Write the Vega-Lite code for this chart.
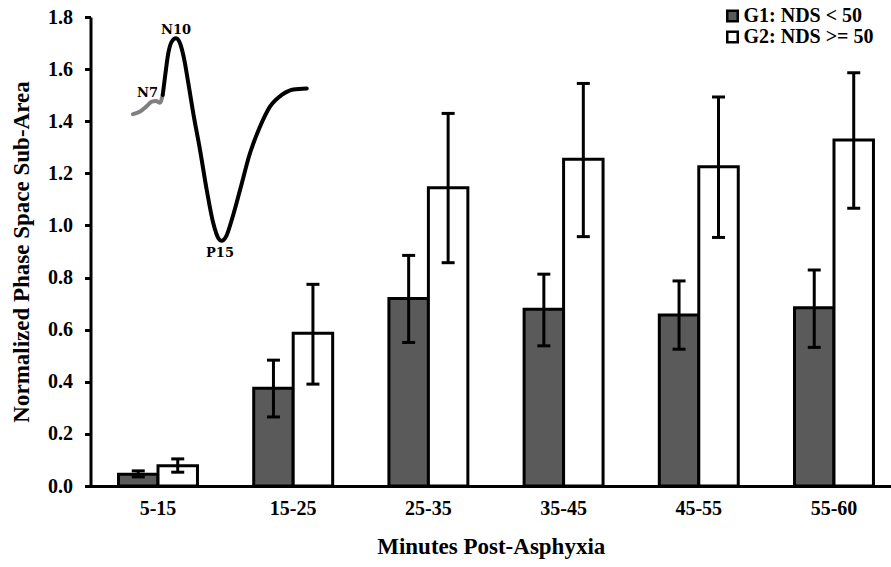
{
  "$schema": "https://vega.github.io/schema/vega-lite/v6.json",
  "autosize": {"type": "none"},
  "width": 800.5,
  "height": 469,
  "padding": {"left": 90.5, "top": 17, "right": 0, "bottom": 81},
  "background": "white",
  "config": {
    "view": {"stroke": null},
    "font": "Liberation Serif",
    "axis": {
      "labelFont": "Liberation Serif",
      "labelFontWeight": "bold",
      "labelColor": "black",
      "titleFont": "Liberation Serif",
      "titleFontWeight": "bold",
      "titleColor": "black",
      "domainColor": "black",
      "domainWidth": 3,
      "tickColor": "black",
      "tickWidth": 3,
      "grid": false
    }
  },
  "layer": [
    {
      "data": {
        "values": [
          {"interval": "5-15", "group": "G1: NDS < 50", "mean": 0.045, "lo": 0.035, "hi": 0.058},
          {"interval": "5-15", "group": "G2: NDS >= 50", "mean": 0.078, "lo": 0.053, "hi": 0.104},
          {"interval": "15-25", "group": "G1: NDS < 50", "mean": 0.375, "lo": 0.265, "hi": 0.483},
          {"interval": "15-25", "group": "G2: NDS >= 50", "mean": 0.586, "lo": 0.391, "hi": 0.774},
          {"interval": "25-35", "group": "G1: NDS < 50", "mean": 0.72, "lo": 0.551, "hi": 0.885},
          {"interval": "25-35", "group": "G2: NDS >= 50", "mean": 1.145, "lo": 0.857, "hi": 1.43},
          {"interval": "35-45", "group": "G1: NDS < 50", "mean": 0.678, "lo": 0.538, "hi": 0.813},
          {"interval": "35-45", "group": "G2: NDS >= 50", "mean": 1.254, "lo": 0.957, "hi": 1.545},
          {"interval": "45-55", "group": "G1: NDS < 50", "mean": 0.656, "lo": 0.525, "hi": 0.787},
          {"interval": "45-55", "group": "G2: NDS >= 50", "mean": 1.225, "lo": 0.954, "hi": 1.493},
          {"interval": "55-60", "group": "G1: NDS < 50", "mean": 0.684, "lo": 0.532, "hi": 0.829},
          {"interval": "55-60", "group": "G2: NDS >= 50", "mean": 1.328, "lo": 1.066, "hi": 1.586}
        ]
      },
      "encoding": {
        "x": {
          "field": "interval", "type": "nominal", "sort": null,
          "title": "Minutes Post-Asphyxia",
          "scale": {"paddingInner": 0.416, "paddingOuter": 0.1685, "align": 0.615},
          "axis": {"labelAngle": 0, "ticks": false, "labelFontSize": 20, "labelPadding": 12, "titleFontSize": 23, "titlePadding": 17}
        },
        "xOffset": {"field": "group", "type": "nominal", "sort": ["G1: NDS < 50", "G2: NDS >= 50"], "scale": {"paddingInner": 0, "paddingOuter": 0}}
      },
      "layer": [
        {
          "mark": {"type": "bar", "stroke": "black", "strokeWidth": 3, "fillOpacity": 1},
          "encoding": {
            "y": {
              "field": "mean", "type": "quantitative",
              "title": "Normalized Phase Space Sub-Area",
              "scale": {"domain": [0, 1.8], "nice": false},
              "axis": {"values": [0, 0.2, 0.4, 0.6, 0.8, 1.0, 1.2, 1.4, 1.6, 1.8], "format": ".1f", "labelFontSize": 20, "tickSize": 6, "labelPadding": 12, "titleFontSize": 23, "titlePadding": 14}
            },
            "fill": {
              "field": "group", "type": "nominal",
              "scale": {"domain": ["G1: NDS < 50", "G2: NDS >= 50"], "range": ["#5a5a5a", "#ffffff"]},
              "legend": {
                "title": null, "orient": "none", "legendX": 632, "legendY": -11,
                "symbolType": "square", "symbolSize": 110, "symbolStrokeColor": "black", "symbolStrokeWidth": 2.5,
                "labelFont": "Liberation Serif", "labelFontWeight": "bold", "labelFontSize": 20, "labelColor": "black",
                "rowPadding": -4, "labelOffset": 1, "padding": 0
              }
            }
          }
        },
        {
          "mark": {"type": "rule", "color": "black", "strokeWidth": 3},
          "encoding": {
            "y": {"field": "lo", "type": "quantitative", "title": "Normalized Phase Space Sub-Area"},
            "y2": {"field": "hi"}
          }
        },
        {
          "mark": {"type": "tick", "color": "black", "thickness": 3, "size": 13, "opacity": 1},
          "encoding": {
            "y": {"field": "lo", "type": "quantitative", "title": "Normalized Phase Space Sub-Area"}
          }
        },
        {
          "mark": {"type": "tick", "color": "black", "thickness": 3, "size": 13, "opacity": 1},
          "encoding": {
            "y": {"field": "hi", "type": "quantitative", "title": "Normalized Phase Space Sub-Area"}
          }
        }
      ]
    },
    {
      "layer": [
        {
          "data": {
            "values": [
              {"t": 5.31, "v": 1.427, "seg": "pre"},
              {"t": 6.18, "v": 1.437, "seg": "pre"},
              {"t": 7.02, "v": 1.458, "seg": "pre"},
              {"t": 7.65, "v": 1.475, "seg": "pre"},
              {"t": 8.18, "v": 1.478, "seg": "pre"},
              {"t": 8.68, "v": 1.471, "seg": "pre"},
              {"t": 9.02, "v": 1.501, "seg": "pre"},
              {"t": 9.02, "v": 1.501, "seg": "main"},
              {"t": 9.31, "v": 1.571, "seg": "main"},
              {"t": 9.72, "v": 1.661, "seg": "main"},
              {"t": 10.14, "v": 1.705, "seg": "main"},
              {"t": 10.68, "v": 1.718, "seg": "main"},
              {"t": 11.18, "v": 1.699, "seg": "main"},
              {"t": 11.68, "v": 1.641, "seg": "main"},
              {"t": 12.22, "v": 1.546, "seg": "main"},
              {"t": 12.84, "v": 1.43, "seg": "main"},
              {"t": 13.68, "v": 1.29, "seg": "main"},
              {"t": 14.52, "v": 1.136, "seg": "main"},
              {"t": 15.34, "v": 1.008, "seg": "main"},
              {"t": 15.97, "v": 0.951, "seg": "main"},
              {"t": 16.39, "v": 0.941, "seg": "main"},
              {"t": 16.93, "v": 0.957, "seg": "main"},
              {"t": 17.64, "v": 1.021, "seg": "main"},
              {"t": 18.68, "v": 1.136, "seg": "main"},
              {"t": 19.92, "v": 1.277, "seg": "main"},
              {"t": 21.17, "v": 1.379, "seg": "main"},
              {"t": 22.42, "v": 1.456, "seg": "main"},
              {"t": 23.89, "v": 1.501, "seg": "main"},
              {"t": 25.33, "v": 1.522, "seg": "main"},
              {"t": 27.01, "v": 1.526, "seg": "main"}
            ]
          },
          "mark": {"type": "line", "strokeWidth": 4, "strokeCap": "round", "strokeJoin": "round", "interpolate": "monotone"},
          "encoding": {
            "x": {"field": "t", "type": "quantitative", "scale": {"domain": [0, 100], "nice": false, "zero": false}, "axis": null},
            "y": {"field": "v", "type": "quantitative", "scale": {"domain": [0, 1.8], "nice": false}, "axis": null},
            "color": {"field": "seg", "type": "nominal", "scale": {"domain": ["pre", "main"], "range": ["#808080", "#000000"]}, "legend": null}
          }
        },
        {
          "data": {
            "values": [
              {"t": 7.12, "v": 1.51, "label": "N7"},
              {"t": 10.68, "v": 1.75, "label": "N10"},
              {"t": 16.18, "v": 0.893, "label": "P15"}
            ]
          },
          "mark": {"type": "text", "font": "DejaVu Serif", "fontWeight": "bold", "fontSize": 13, "color": "black", "align": "center", "baseline": "middle"},
          "encoding": {
            "x": {"field": "t", "type": "quantitative", "scale": {"domain": [0, 100], "nice": false, "zero": false}, "axis": null},
            "y": {"field": "v", "type": "quantitative", "scale": {"domain": [0, 1.8], "nice": false}, "axis": null},
            "text": {"field": "label"}
          }
        }
      ]
    }
  ],
  "resolve": {"scale": {"x": "independent", "y": "independent"}}
}
